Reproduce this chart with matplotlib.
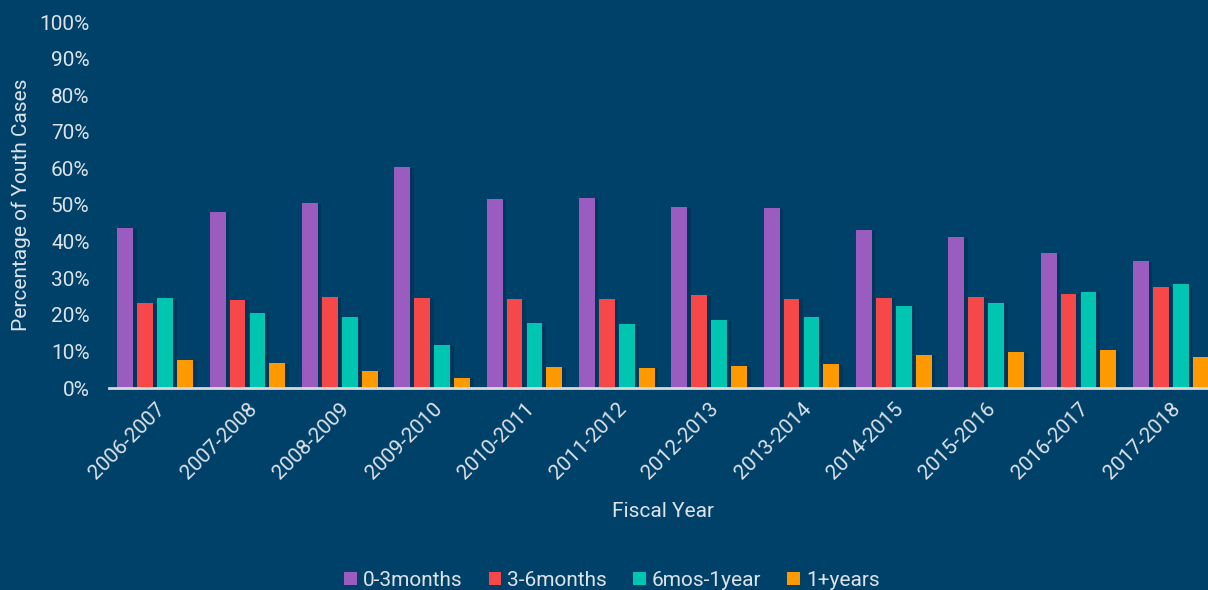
import numpy as np
import matplotlib
matplotlib.use("Agg")
import matplotlib.pyplot as plt
import matplotlib.patheffects as pe
import matplotlib.transforms as mtrans
from matplotlib.patches import Patch

plt.rcParams['font.family'] = ['Roboto', 'DejaVu Sans']

years = ['2006-2007', '2007-2008', '2008-2009', '2009-2010', '2010-2011', '2011-2012',
         '2012-2013', '2013-2014', '2014-2015', '2015-2016', '2016-2017', '2017-2018']
series_names = ['0-3months', '3-6months', '6mos-1year', '1+years']
m0_3 = [43.7, 48.2, 50.6, 60.3, 51.7, 51.8, 49.4, 49.1, 43.2, 41.3, 36.9, 34.7]
m3_6 = [23.2, 24.1, 24.8, 24.6, 24.2, 24.3, 25.3, 24.4, 24.7, 24.9, 25.8, 27.7]
m6_12 = [24.6, 20.4, 19.5, 11.8, 17.8, 17.5, 18.5, 19.3, 22.3, 23.3, 26.3, 28.4]
y1_plus = [7.7, 6.7, 4.6, 2.7, 5.7, 5.6, 6.0, 6.6, 9.1, 9.8, 10.3, 8.5]
yticks = [0, 10, 20, 30, 40, 50, 60, 70, 80, 90, 100]

colors = ['#9b5cbf', '#f64749', '#00c6b1', '#ff9900']
bg = '#00416a'
txt = '#dde3e8'

fig = plt.figure(figsize=(12.08, 5.9), dpi=100, facecolor=bg)
ax = fig.add_axes([109 / 1208, 202 / 590, 1108 / 1208, 366 / 590])
ax.set_facecolor(bg)

x = np.arange(len(years))
pitch = 0.2165
width = 0.173
shadow = [pe.SimplePatchShadow(offset=(2.5, -0.5), shadow_rgbFace='#002440', alpha=0.35),
          pe.Normal()]
for i, (vals, c) in enumerate(zip([m0_3, m3_6, m6_12, y1_plus], colors)):
    bars = ax.bar(x + (i - 1.5) * pitch, vals, width, color=c, zorder=3)
    for b in bars:
        b.set_path_effects(shadow)

ax.set_xlim(-0.5, len(years) - 0.5)
ax.set_ylim(0, 100)
ax.set_yticks(yticks)
ax.set_yticklabels([f'{t}%' for t in yticks])
ax.set_xticks(x)
ax.set_xticklabels(years, rotation=45, ha='right', rotation_mode='anchor')
shift = mtrans.ScaledTranslation(-5 / 100, 0, fig.dpi_scale_trans)
for lab in ax.get_xticklabels():
    lab.set_transform(lab.get_transform() + shift)

for s in ['top', 'right', 'left']:
    ax.spines[s].set_visible(False)
ax.spines['bottom'].set_color('#d9d9d9')
ax.spines['bottom'].set_linewidth(2)
ax.spines['bottom'].set_zorder(4)
ax.tick_params(axis='both', length=0, colors=txt, labelsize=15)
ax.tick_params(axis='y', pad=14)
ax.tick_params(axis='x', pad=8)

ax.set_ylabel('Percentage of Youth Cases', color=txt, fontsize=15, labelpad=6)
ax.set_xlabel('Fiscal Year', color=txt, fontsize=15, labelpad=14)

handles = [Patch(facecolor=c, label=n) for c, n in zip(colors, series_names)]
fig.legend(handles=handles, loc='center', bbox_to_anchor=(0.5 + 8 / 1208, 10 / 590), ncol=4,
           frameon=False, fontsize=15, labelcolor=txt, handlelength=0.6,
           handleheight=0.6, handletextpad=0.3, columnspacing=1.25)

fig.savefig('out.png', dpi=100, facecolor=bg)
